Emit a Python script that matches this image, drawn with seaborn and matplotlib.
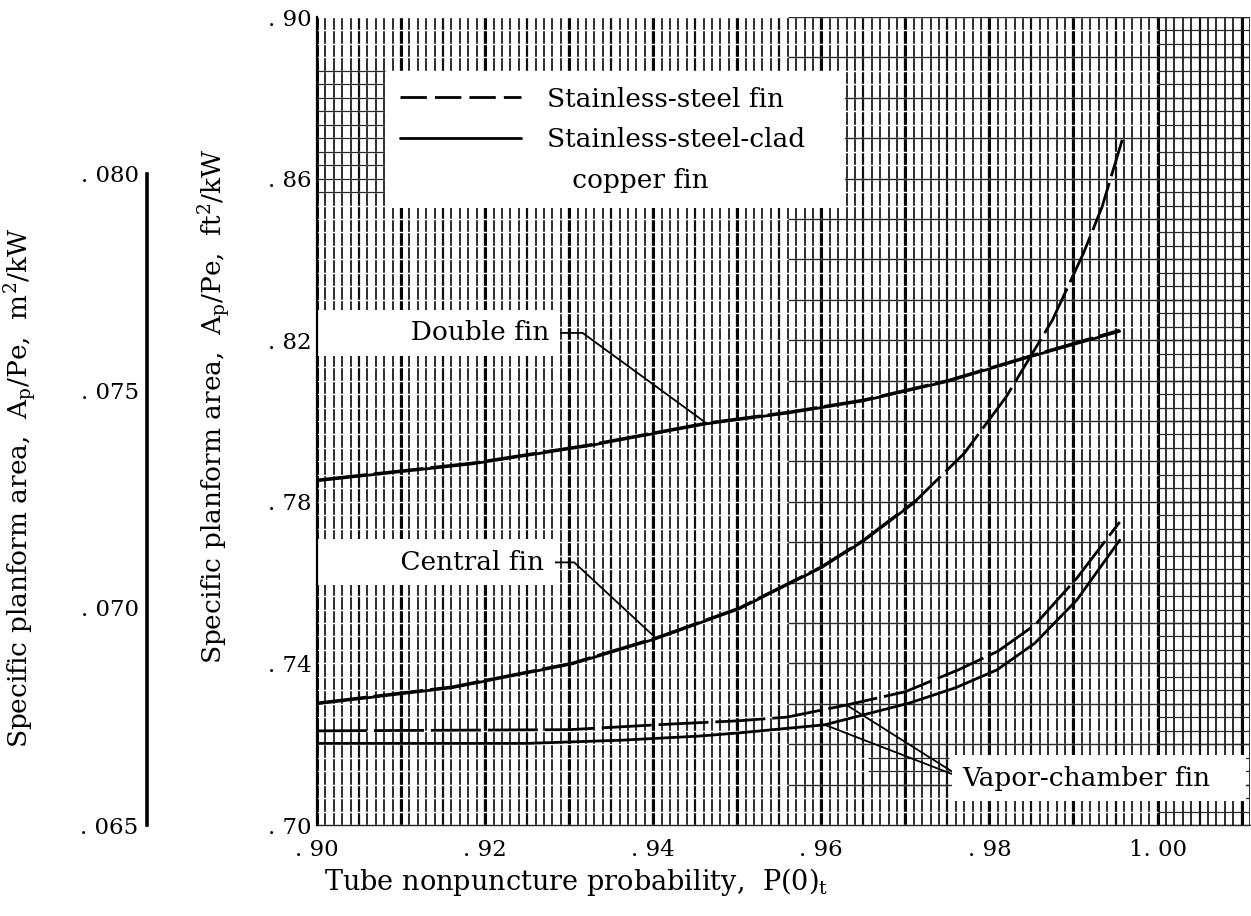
import math

import numpy as np
import pandas as pd
import seaborn as sns
import matplotlib.pyplot as plt
from matplotlib.lines import Line2D

# ---- curve data: tube nonpuncture probability vs specific planform area (ft^2/kW)
double_ss_x = [0.900, 0.9185, 0.9324, 0.9463, 0.9561, 0.965, 0.975, 0.985, 0.9955]
double_ss_y = [0.7854, 0.7896, 0.7941, 0.7995, 0.8022, 0.8052, 0.8100, 0.8162, 0.8225]
double_clad_x = [0.900, 0.9185, 0.9324, 0.9463, 0.9561, 0.965, 0.975, 0.985, 0.9955]
double_clad_y = [0.7852, 0.7894, 0.7939, 0.7993, 0.8020, 0.8050, 0.8098, 0.8160, 0.8222]

central_ss_x = [0.900, 0.9161, 0.9304, 0.9403, 0.9502, 0.9600, 0.9650, 0.9713,
                0.9770, 0.9820, 0.9875, 0.9912, 0.9934, 0.9958]
central_ss_y = [0.7302, 0.7342, 0.7401, 0.7463, 0.7537, 0.7639, 0.7705, 0.7804,
                0.7920, 0.8060, 0.8250, 0.8416, 0.8530, 0.8696]
central_clad_x = [0.900, 0.9161, 0.9304, 0.9403, 0.9502, 0.9600, 0.9650, 0.9713]
central_clad_y = [0.7300, 0.7340, 0.7399, 0.7461, 0.7535, 0.7637, 0.7703, 0.7802]

vapor_ss_x = [0.900, 0.930, 0.9422, 0.9502, 0.9559, 0.9630, 0.9700, 0.9763,
              0.9810, 0.9854, 0.9904, 0.9955]
vapor_ss_y = [0.7233, 0.7236, 0.7250, 0.7258, 0.7267, 0.7297, 0.7330, 0.7384,
              0.7430, 0.7495, 0.7611, 0.7750]
vapor_clad_x = [0.900, 0.925, 0.9363, 0.9454, 0.9502, 0.9604, 0.9705, 0.9760,
                0.9809, 0.9854, 0.9904, 0.9955]
vapor_clad_y = [0.7202, 0.7202, 0.7210, 0.7220, 0.7228, 0.7248, 0.7302, 0.7340,
                0.7384, 0.7450, 0.7557, 0.7705]

# ---- axis ticks and labels
x_ticks = [0.90, 0.92, 0.94, 0.96, 0.98, 1.00]
x_tick_labels = [". 90", ". 92", ". 94", ". 96", ". 98", "1. 00"]
y_ticks = [0.70, 0.74, 0.78, 0.82, 0.86, 0.90]
y_tick_labels = [". 70", ". 74", ". 78", ". 82", ". 86", ". 90"]
si_ticks = [0.065, 0.070, 0.075, 0.080]
si_tick_labels = [". 065", ". 070", ". 075", ". 080"]
FT2_TO_M2 = 0.092903

legend_labels = ["Stainless-steel fin", "Stainless-steel-clad   ", "   copper fin"]

XMIN, XMAX = 0.90, 1.011
YMIN, YMAX = 0.70, 0.90

sns.set_theme(style="white")
plt.rcParams["font.family"] = ["DejaVu Serif"]
plt.rcParams["mathtext.fontset"] = "dejavuserif"
for key in ("text.color", "axes.labelcolor", "xtick.color", "ytick.color"):
    plt.rcParams[key] = "black"
FS_TICK = 16.5
FS = 19

fig = plt.figure(figsize=(12.51, 9.16), dpi=100)
L, R, B, T = 317 / 1251, 1250 / 1251, 1 - 825 / 916, 1 - 17 / 916
ax = fig.add_axes([L, B, R - L, T - B])
ax.set_xlim(XMIN, XMAX)
ax.set_ylim(YMIN, YMAX)

# ---- graph-paper background
fine_x = np.round(np.arange(0.900, XMAX + 1e-9, 0.001), 3)
milli = np.round(fine_x * 1000).astype(int)
ax.vlines(fine_x, YMIN, YMAX, colors="#1c1c1c", lw=1.3, zorder=0.5)
ax.vlines(fine_x[milli % 5 == 0], YMIN, YMAX, colors="#111111", lw=1.6, zorder=0.55)
ax.vlines(fine_x[milli % 10 == 0], YMIN, YMAX, colors="#050505", lw=2.2, zorder=0.6)
fine_y = np.arange(YMIN, YMAX + 1e-9, 0.01 / 3)
ax.hlines(fine_y, 0.90, 1.0, colors="white", lw=1.0, zorder=0.8)
coarse_y = np.round(np.arange(0.71, 0.90 + 1e-9, 0.01), 2)
ax.hlines(coarse_y, 0.956, XMAX, colors="#2a2a2a", lw=1.0, zorder=0.9)
ax.hlines(fine_y, 1.0, XMAX, colors="#2a2a2a", lw=0.9, zorder=0.9)
patch_y = fine_y[(fine_y > 0.856) & (fine_y < 0.887)]
ax.hlines(patch_y, 0.90, 0.9081, colors="#2a2a2a", lw=0.9, zorder=0.9)
patch_y2 = fine_y[(fine_y > 0.7070) & (fine_y < 0.7170)]
ax.hlines(patch_y2, 0.9655, 0.9752, colors="#2a2a2a", lw=0.9, zorder=0.9)

# ---- curves
SS, CLAD = "Stainless-steel fin", "Stainless-steel-clad copper fin"
curves = [
    ("double_ss", SS, double_ss_x, double_ss_y),
    ("double_clad", CLAD, double_clad_x, double_clad_y),
    ("central_clad", CLAD, central_clad_x, central_clad_y),
    ("central_ss", SS, central_ss_x, central_ss_y),
    ("vapor_ss", SS, vapor_ss_x, vapor_ss_y),
    ("vapor_clad", CLAD, vapor_clad_x, vapor_clad_y),
]
rows = []
for name, mat, xs, ys in curves:
    for i, (xv, yv) in enumerate(zip(xs, ys)):
        rows.append({"curve": name, "material": mat, "order": i, "p": xv, "area": yv})
df = pd.DataFrame(rows)
sns.lineplot(data=df, x="p", y="area", units="curve", style="material",
             style_order=[SS, CLAD], dashes={SS: (18, 2.5), CLAD: ""},
             estimator=None, sort=False, color="black", lw=2.0,
             legend=False, ax=ax, zorder=3)

# ---- axes styling
ax.set_xticks(x_ticks)
ax.set_xticklabels(x_tick_labels, fontsize=FS_TICK)
ax.set_yticks(y_ticks)
ax.set_yticklabels(y_tick_labels, fontsize=FS_TICK)
ax.tick_params(axis="both", length=0, colors="black")
ax.tick_params(axis="x", pad=10)
ax.tick_params(axis="y", pad=4)
for s in ("top", "right"):
    ax.spines[s].set_visible(False)
ax.spines["left"].set_linewidth(1.6)
ax.spines["left"].set_color("black")
ax.spines["left"].set_zorder(6)
ax.spines["bottom"].set_linewidth(1.0)
ax.spines["bottom"].set_color("#222222")
ax.grid(False)

ax.set_xlabel("Tube nonpuncture probability,  P(0)$_\\mathregular{t}$", fontsize=19.5,
              color="black")
ax.xaxis.set_label_coords((576 - 317) / 933, -(866 - 825) / 808)
ylab_ft = "Specific planform area,  A$_\\mathregular{p}$/Pe,  ft$^\\mathregular{2}$/kW"
ax.set_ylabel(ylab_ft, fontsize=19, color="black")
ax.yaxis.set_label_coords((234 - 317) / 933, 1 - (406 - 17) / 808)

# ---- secondary SI scale on the far left
ax2 = fig.add_axes([147 / 1251, B, 0.0005, T - B])
ax2.set_ylim(YMIN * FT2_TO_M2, YMAX * FT2_TO_M2)
ax2.set_xticks([])
ax2.set_yticks(si_ticks)
ax2.set_yticklabels(si_tick_labels, fontsize=FS_TICK)
ax2.tick_params(axis="y", direction="in", length=31, width=2.2, pad=6, colors="black")
for s in ("top", "right", "bottom"):
    ax2.spines[s].set_visible(False)
ax2.spines["left"].set_bounds(si_ticks[0], si_ticks[-1])
ax2.spines["left"].set_linewidth(2.6)
ax2.spines["left"].set_color("black")
ax2.patch.set_alpha(0)
ylab_si = "Specific planform area,  A$_\\mathregular{p}$/Pe,  m$^\\mathregular{2}$/kW"
ax2.set_ylabel(ylab_si, fontsize=19, color="black")
ax2.yaxis.set_label_coords(40 / 1251, 1 - 488 / 916, transform=fig.transFigure)

# ---- legend
handles = [Line2D([], [], color="black", lw=2.0, dashes=(9.5, 2.9)),
           Line2D([], [], color="black", lw=2.0),
           Line2D([], [], color="none")]
leg = ax.legend(handles, legend_labels, loc="upper left",
                bbox_to_anchor=((385 - 317) / 933, 1 - (72 - 17) / 808),
                borderaxespad=0, fontsize=FS, handlelength=4.6, handletextpad=1.0,
                labelspacing=0.6, borderpad=0.55, frameon=True, fancybox=False,
                edgecolor="none", facecolor="white", framealpha=1,
                labelcolor="black")
leg.set_zorder(5)

# ---- leader-line labels
BOX = dict(boxstyle="square,pad=0.4", fc="white", ec="none")


def leader_angle(corner, end):
    c = ax.transData.transform(corner)
    e = ax.transData.transform(end)
    return math.degrees(math.atan2(c[1] - e[1], c[0] - e[0]))


def bent_label(text, txt_xy, corner_x, end_xy):
    ang = leader_angle((corner_x, txt_xy[1]), end_xy)
    ax.annotate(text, xy=end_xy, xytext=txt_xy, ha="right", va="center",
                fontsize=FS, color="black", bbox=BOX, zorder=5,
                arrowprops=dict(arrowstyle="-", color="black", lw=1.3,
                                relpos=(1, 0.5), shrinkA=0, shrinkB=0,
                                connectionstyle=f"angle,angleA=0,angleB={ang},rad=0"))


bent_label("          Double fin", (0.9276, 0.8218), 0.9316,
           (double_ss_x[3], double_ss_y[3]))
bent_label("         Central fin", (0.9270, 0.7650), 0.9306,
           (central_ss_x[3], central_ss_y[3]))

vap_txt = (0.9768, 0.7116)
for k, (xs, ys, idx) in enumerate([(vapor_ss_x, vapor_ss_y, 5),
                                   (vapor_clad_x, vapor_clad_y, 5)]):
    ax.annotate("Vapor-chamber fin   ", xy=(xs[idx], ys[idx]), xytext=vap_txt,
                ha="left", va="center", fontsize=FS,
                color="black" if k == 0 else "none",
                bbox=BOX if k == 0 else dict(boxstyle="square,pad=0.4", fc="none", ec="none"),
                zorder=5 if k == 0 else 4.9,
                arrowprops=dict(arrowstyle="-", color="black", lw=1.3,
                                relpos=(0, 0.5), shrinkA=0, shrinkB=0))

fig.savefig("out.png", dpi=100)
